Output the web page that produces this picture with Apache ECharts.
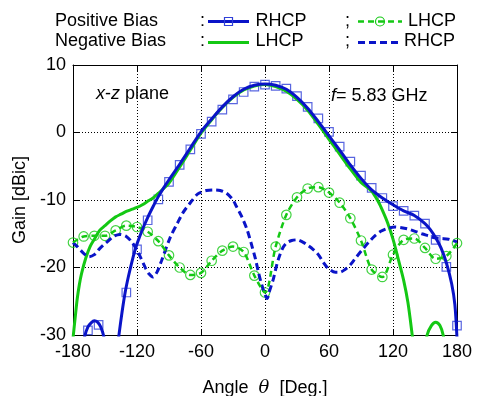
<!DOCTYPE html>
<html>
<head>
  <meta charset="utf-8">
  <style>
    html, body { margin: 0; padding: 0; background: #fff; }
    #chart { width: 478px; height: 396px; }
  </style>
</head>
<body>
  <div id="chart"></div>
  <script src="https://cdn.jsdelivr.net/npm/echarts@6/dist/echarts.min.js"></script>
  <script>
    // positive bias, RHCP (solid line)
    var rhcpPosAngles = [-180, -175, -172, -169, -166, -163, -160, -157, -154, -151, -148, -144, -140, -137, -134, -131, -128, -125, -122, -120, -115, -110, -105, -100, -95, -90, -80, -70, -60, -50, -40, -30, -20, -10, 0, 10, 20, 30, 40, 50, 60, 70, 80, 90, 100, 110, 120, 130, 140, 150, 155, 160, 165, 170, 175, 178, 180];
    var rhcpPosGain = [-45, -38, -33, -30.2, -28.8, -28.2, -27.9, -28.1, -28.8, -30.3, -33, -40, -34, -30.1, -26.6, -23.6, -21.3, -19.3, -17.5, -16.5, -14.4, -12.6, -11.0, -9.5, -8.2, -7.0, -4.7, -2.3, 0.1, 2.0, 3.8, 5.3, 6.4, 7.0, 7.2, 7.0, 6.4, 5.2, 3.6, 1.6, -0.5, -2.6, -4.8, -6.8, -8.5, -9.7, -10.7, -11.6, -12.3, -13.5, -14.4, -15.6, -17.1, -19.3, -22.4, -25.5, -30.5];

    // positive bias, RHCP (square markers)
    var rhcpPosMarkAngles = [-166, -156, -130, -120, -110, -100, -90, -80, -70, -60, -50, -40, -30, -20, -10, 0, 10, 20, 30, 40, 50, 60, 70, 80, 90, 100, 110, 120, 130, 140, 150, 160, 170, 180];
    var rhcpPosMarkGain = [-29.3, -28.5, -23.7, -17.3, -13.0, -9.9, -7.3, -4.8, -2.5, -0.2, 1.6, 3.4, 4.9, 6.0, 6.8, 7.1, 6.9, 6.5, 5.4, 3.8, 2.1, 0.1, -2.1, -4.3, -6.4, -8.2, -9.7, -10.9, -11.6, -12.3, -13.5, -15.9, -19.9, -28.6];

    // positive bias, LHCP (dashed line with circles)
    var lhcpPosAngles = [-180, -170, -160, -150, -140, -130, -120, -110, -100, -90, -80, -70, -60, -50, -40, -30, -20, -10, 0, 10, 20, 30, 40, 50, 60, 70, 80, 90, 100, 110, 120, 130, 140, 150, 160, 170, 180];
    var lhcpPosGain = [-16.3, -15.4, -15.3, -15.3, -14.5, -13.8, -14.0, -14.7, -16.1, -18.2, -20.0, -21.1, -20.8, -19.0, -17.5, -16.9, -17.7, -21.2, -23.7, -16.9, -12.2, -9.6, -8.3, -8.1, -8.9, -10.4, -12.7, -16.0, -20.3, -21.4, -18.1, -15.9, -15.7, -17.1, -18.7, -18.3, -16.4];

    // negative bias, LHCP (solid line)
    var lhcpNegAngles = [-180, -178, -176, -174, -172, -168, -164, -160, -155, -150, -145, -140, -135, -130, -125, -120, -115, -110, -105, -100, -95, -90, -80, -70, -60, -50, -40, -30, -20, -10, 0, 10, 20, 30, 40, 50, 60, 70, 80, 90, 100, 106, 110, 115, 120, 125, 130, 134, 138, 141, 145, 149, 152, 156, 160, 164, 167, 170, 175, 180];
    var lhcpNegGain = [-30.5, -27.5, -24.6, -22.5, -20.9, -18.6, -16.9, -15.8, -14.5, -13.8, -13.1, -12.5, -12.1, -11.7, -11.4, -11.1, -10.7, -10.2, -9.7, -9.0, -8.3, -7.5, -5.1, -2.6, -0.1, 1.9, 3.7, 5.2, 6.3, 6.9, 7.1, 6.8, 6.1, 4.9, 3.3, 1.2, -1.0, -3.2, -5.4, -7.4, -8.7, -10.2, -11.5, -13.4, -15.8, -18.8, -21.9, -25.2, -30.0, -34, -38, -33, -30.0, -28.6, -28.1, -28.6, -30.0, -33, -40, -45];

    // negative bias, RHCP (dashed line)
    var rhcpNegAngles = [-180, -176, -170, -165, -160, -155, -148, -142, -136, -130, -125, -120, -117, -112, -109, -105, -101, -97, -89, -82, -77, -70, -63, -55, -48, -42, -36, -30, -27, -22, -17, -13, -9, -6, -3, 0, 2, 4, 8, 11, 14, 17, 20, 25, 30, 35, 39, 45, 50, 55, 59, 66, 70, 75, 80, 84, 90, 97, 103, 109, 115, 122, 128, 134, 140, 147, 153, 159, 165, 172, 176, 180];
    var rhcpNegGain = [-16.3, -16.9, -17.9, -18.4, -18.1, -17.2, -16.2, -15.4, -15.1, -15.4, -16.2, -17.4, -18.4, -20.1, -20.9, -21.4, -20.6, -19.0, -15.6, -13.4, -11.9, -10.4, -9.1, -8.6, -8.5, -8.6, -9.0, -10.0, -10.9, -12.4, -14.3, -16.4, -18.7, -20.8, -22.6, -24.0, -24.6, -23.6, -21.6, -19.6, -18.1, -17.0, -16.4, -16.0, -15.9, -16.2, -16.6, -17.3, -18.1, -19.3, -20.1, -20.7, -20.7, -20.3, -19.6, -18.8, -17.6, -16.3, -15.3, -14.6, -14.2, -14.0, -14.1, -14.3, -14.6, -15.0, -15.3, -15.6, -15.7, -15.8, -16.0, -16.2];

    var FONT = 'Liberation Sans, Arial, sans-serif';
    var BLUE = '#0a14c8';
    var GREEN = '#14c814';

    function pairs(xs, ys) {
      return xs.map(function (x, i) { return [x, ys[i]]; });
    }

    var chart = echarts.init(document.getElementById('chart'));

    var axisCommon = {
      type: 'value',
      axisLine: { show: true, onZero: false, lineStyle: { color: '#000', width: 1 } },
      axisTick: { show: true, inside: true, length: 6, lineStyle: { color: '#000' } }
    };

    function legendText(text, x, y) {
      return {
        type: 'text', x: x, y: y,
        style: { text: text, font: '18px ' + FONT, fill: '#000', textVerticalAlign: 'middle' }
      };
    }
    function legendLine(x1, x2, y, color, width, dash) {
      return {
        type: 'line',
        shape: { x1: x1, y1: y, x2: x2, y2: y },
        style: { stroke: color, lineWidth: width, lineDash: dash || null }
      };
    }

    chart.setOption({
      animation: false,
      grid: { left: 73, right: 21, top: 65, bottom: 61, outerBoundsMode: 'none' },
      xAxis: [
        Object.assign({}, axisCommon, {
          min: -180, max: 180, interval: 60,
          axisLabel: { color: '#000', fontSize: 18, fontFamily: FONT, margin: 8 },
          splitLine: { show: true, lineStyle: { color: '#000', width: 1, type: [1, 2] } },
          name: 'Angle  {i|θ}  [Deg.]',
          nameLocation: 'middle',
          nameGap: 44,
          nameTextStyle: {
            color: '#000', fontSize: 18, fontFamily: FONT,
            rich: { i: { fontStyle: 'italic', fontSize: 18, fontFamily: 'DejaVu Serif', color: '#000' } }
          }
        }),
        Object.assign({}, axisCommon, {
          position: 'top',
          min: -180, max: 180, interval: 60,
          axisLabel: { show: false },
          splitLine: { show: false }
        })
      ],
      yAxis: [
        Object.assign({}, axisCommon, {
          min: -30, max: 10, interval: 10,
          axisLabel: { color: '#000', fontSize: 18, fontFamily: FONT, margin: 7 },
          splitLine: { show: true, lineStyle: { color: '#000', width: 1, type: [1, 2] } },
          name: 'Gain [dBic]',
          nameLocation: 'middle',
          nameGap: 37,
          nameTextStyle: { color: '#000', fontSize: 18, fontFamily: FONT }
        }),
        Object.assign({}, axisCommon, {
          position: 'right',
          min: -30, max: 10, interval: 10,
          axisLabel: { show: false },
          splitLine: { show: false }
        })
      ],
      series: [
        {
          name: 'LHCP (negative bias)', type: 'line',
          data: pairs(lhcpNegAngles, lhcpNegGain),
          smooth: 0.3, symbol: 'none',
          lineStyle: { color: GREEN, width: 3 }
        },
        {
          name: 'RHCP (negative bias)', type: 'line',
          data: pairs(rhcpNegAngles, rhcpNegGain),
          smooth: 0.3, symbol: 'none',
          lineStyle: { color: BLUE, width: 3, type: [7, 4] }
        },
        {
          name: 'LHCP (positive bias)', type: 'line',
          data: pairs(lhcpPosAngles, lhcpPosGain),
          smooth: 0.3, symbol: 'none',
          lineStyle: { color: GREEN, width: 2.5, type: [6, 4] }
        },
        {
          name: 'LHCP (positive bias) markers', type: 'scatter',
          data: pairs(lhcpPosAngles, lhcpPosGain),
          symbol: 'circle', symbolSize: 9.5,
          itemStyle: { color: 'rgba(0,0,0,0)', borderColor: GREEN, borderWidth: 1.2 }
        },
        {
          name: 'RHCP (positive bias)', type: 'line',
          data: pairs(rhcpPosAngles, rhcpPosGain),
          smooth: 0.3, symbol: 'none',
          lineStyle: { color: BLUE, width: 3 }
        },
        {
          name: 'RHCP (positive bias) markers', type: 'scatter',
          data: pairs(rhcpPosMarkAngles, rhcpPosMarkGain),
          symbol: 'rect', symbolSize: 8.5,
          itemStyle: { color: 'rgba(0,0,0,0)', borderColor: '#3040d8', borderWidth: 1.2 }
        }
      ],
      graphic: [
        legendText('Positive Bias', 55, 21),
        legendText(':', 200, 21),
        legendLine(208, 249, 21.5, BLUE, 3),
        {
          type: 'rect', shape: { x: 224.5, y: 17.5, width: 8, height: 8 },
          style: { fill: 'none', stroke: '#3040d8', lineWidth: 1.2 }
        },
        legendText('RHCP', 255.5, 21),
        legendText(';', 345, 21),
        legendLine(358, 402, 21.5, GREEN, 2.5, [6, 4]),
        {
          type: 'circle', shape: { cx: 380, cy: 21.5, r: 4.5 },
          style: { fill: 'none', stroke: GREEN, lineWidth: 1.2 }
        },
        legendText('LHCP', 408, 21),

        legendText('Negative Bias', 55, 41.5),
        legendText(':', 200, 41.5),
        legendLine(208, 249, 42.5, GREEN, 3),
        legendText('LHCP', 255.5, 41.5),
        legendText(';', 345, 41.5),
        legendLine(358, 402, 42.5, BLUE, 3, [7, 4]),
        legendText('RHCP', 404, 41.5),

        {
          type: 'text', x: 96, y: 94,
          style: {
            text: '{i|x}-{i|z} plane', font: '18px ' + FONT, fill: '#000', textVerticalAlign: 'middle',
            rich: { i: { fontStyle: 'italic', fontSize: 18, fontFamily: FONT } }
          }
        },
        {
          type: 'text', x: 331, y: 96,
          style: {
            text: '{i|f}= 5.83 GHz', font: '18px ' + FONT, fill: '#000', textVerticalAlign: 'middle',
            rich: { i: { fontStyle: 'italic', fontSize: 18, fontFamily: FONT } }
          }
        }
      ]
    });
  </script>
</body>
</html>
